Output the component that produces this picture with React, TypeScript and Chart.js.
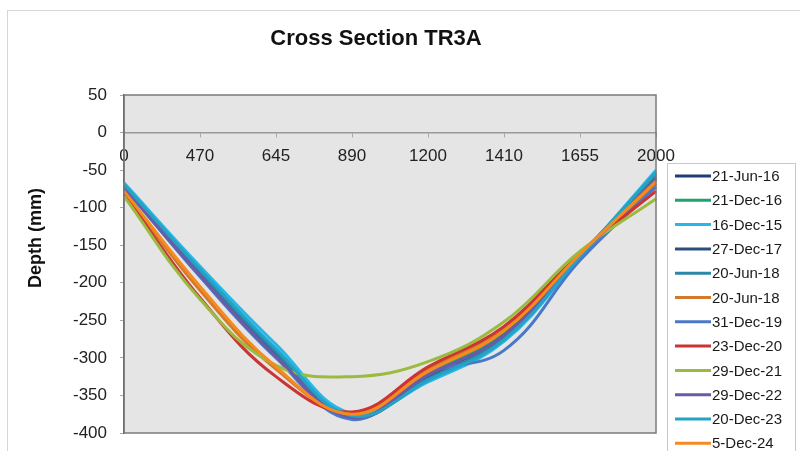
import React, { useEffect, useRef } from "react";
import { Chart, registerables } from "chart.js";

Chart.register(...registerables);

const FONT = "'Liberation Sans', Arial, sans-serif";

const chartTitle = "Cross Section TR3A";
const yAxisTitle = "Depth (mm)";

const categories = ["0", "470", "645", "890", "1200", "1410", "1655", "2000"];

const seriesLabels = [
  "21-Jun-16",
  "21-Dec-16",
  "16-Dec-15",
  "27-Dec-17",
  "20-Jun-18",
  "20-Jun-18",
  "31-Dec-19",
  "23-Dec-20",
  "29-Dec-21",
  "29-Dec-22",
  "20-Dec-23",
  "5-Dec-24",
];

const seriesColors = [
  "#1f3d7a",
  "#1ea36e",
  "#27b8ea",
  "#2d4f80",
  "#2a87a8",
  "#d2792c",
  "#4a78c8",
  "#cc3333",
  "#9bbb40",
  "#6a5aa8",
  "#25a3c4",
  "#f58a1f",
];

const jun16 = [-72, -188, -295, -378, -322, -268, -163, -58];
const dec16 = [-74, -190, -298, -376, -320, -266, -163, -60];
const dec15 = [-67, -178, -282, -374, -332, -278, -166, -50];
const dec17 = [-72, -190, -298, -380, -325, -270, -164, -62];
const jun18a = [-70, -185, -292, -378, -328, -274, -165, -55];
const jun18b = [-80, -210, -315, -373, -315, -261, -162, -68];
const dec19 = [-72, -192, -300, -382, -320, -290, -170, -72];
const dec20 = [-82, -220, -325, -372, -312, -258, -160, -78];
const dec21 = [-85, -222, -310, -325, -305, -252, -158, -88];
const dec22 = [-73, -190, -298, -379, -323, -270, -164, -62];
const dec23 = [-69, -182, -288, -377, -330, -276, -165, -53];
const dec24 = [-78, -205, -312, -375, -318, -264, -162, -65];

const seriesValues = [
  jun16, dec16, dec15, dec17, jun18a, jun18b, dec19, dec20, dec21, dec22, dec23, dec24,
];

const yMin = -400;
const yMax = 50;
const yStep = 50;

const decorPlugin = {
  id: "decor",
  beforeDraw(chart: any) {
    const { ctx, chartArea: a } = chart;
    ctx.save();
    ctx.fillStyle = "#ffffff";
    ctx.fillRect(0, 0, chart.width, chart.height);
    ctx.strokeStyle = "#d6d6d6";
    ctx.lineWidth = 1;
    ctx.strokeRect(7.5, 10.5, chart.width + 10, chart.height + 10);
    ctx.fillStyle = "#e5e5e5";
    ctx.fillRect(a.left, a.top, a.right - a.left, a.bottom - a.top);
    ctx.restore();
  },
  afterDraw(chart: any) {
    const { ctx, chartArea: a } = chart;
    ctx.save();
    // plot border
    ctx.strokeStyle = "#7a7a7a";
    ctx.lineWidth = 1.5;
    ctx.strokeRect(a.left, a.top, a.right - a.left, a.bottom - a.top);
    // title
    ctx.fillStyle = "#111111";
    ctx.font = `bold 22px ${FONT}`;
    ctx.textAlign = "center";
    ctx.textBaseline = "middle";
    ctx.fillText(chartTitle, 376, 39);
    // y axis title
    ctx.save();
    ctx.translate(36, 238);
    ctx.rotate(-Math.PI / 2);
    ctx.font = `bold 18px ${FONT}`;
    ctx.fillText(yAxisTitle, 0, 0);
    ctx.restore();
    // legend
    const lx = 667.5;
    const ly = 163.5;
    ctx.fillStyle = "#ffffff";
    ctx.fillRect(lx, ly, 128, 300);
    ctx.strokeStyle = "#c8c8c8";
    ctx.lineWidth = 1;
    ctx.strokeRect(lx, ly, 128, 300);
    ctx.font = `15px ${FONT}`;
    ctx.textAlign = "left";
    ctx.textBaseline = "middle";
    chart.data.datasets.forEach((ds: any, i: number) => {
      const y = 176 + i * 24.3;
      ctx.strokeStyle = ds.borderColor;
      ctx.lineWidth = 3;
      ctx.beginPath();
      ctx.moveTo(675, y);
      ctx.lineTo(711, y);
      ctx.stroke();
      ctx.fillStyle = "#1a1a1a";
      ctx.fillText(ds.label, 712, y + 1);
    });
    ctx.restore();
  },
};

export default function App() {
  const ref = useRef<HTMLCanvasElement | null>(null);

  useEffect(() => {
    if (!ref.current) return;
    const datasets = seriesLabels.map((label, i) => ({
      label,
      data: seriesValues[i],
      borderColor: seriesColors[i],
      backgroundColor: seriesColors[i],
      borderWidth: 3,
      pointRadius: 0,
      tension: 0.4,
      fill: false,
      order: seriesLabels.length - i,
    }));
    const chart = new Chart(ref.current, {
      type: "line",
      data: { labels: categories, datasets },
      options: {
        responsive: false,
        animation: false,
        layout: { padding: { top: 95, right: 144, bottom: 18, left: 0 } },
        plugins: {
          legend: { display: false },
          title: { display: false },
          tooltip: { enabled: false },
        },
        scales: {
          x: {
            type: "category",
            position: { y: 0 } as any,
            offset: false,
            grid: {
              display: true,
              drawOnChartArea: false,
              drawTicks: true,
              tickLength: 4,
              color: "#a8a8a8",
            },
            border: { display: true, color: "#9a9a9a", width: 1.5 },
            ticks: {
              font: { family: FONT, size: 17 },
              color: "#222222",
              padding: 10,
              maxRotation: 0,
              autoSkip: false,
            },
            afterFit: (s: any) => {
              s.height = 0;
            },
          },
          y: {
            min: yMin,
            max: yMax,
            ticks: {
              stepSize: yStep,
              font: { family: FONT, size: 17 },
              color: "#222222",
              padding: 13,
            },
            grid: {
              drawOnChartArea: false,
              tickLength: 4,
              color: "#a8a8a8",
            },
            border: { display: true, color: "#555555", width: 1.5 },
            afterFit: (s: any) => {
              s.width = 124;
              s.paddingTop = 0;
              s.paddingBottom = 0;
            },
          },
        },
      },
      plugins: [decorPlugin],
    });
    return () => chart.destroy();
  }, []);

  return (
    <div style={{ position: "absolute", left: 0, top: 0, width: 800, height: 451 }}>
      <canvas ref={ref} width={800} height={451} />
    </div>
  );
}
